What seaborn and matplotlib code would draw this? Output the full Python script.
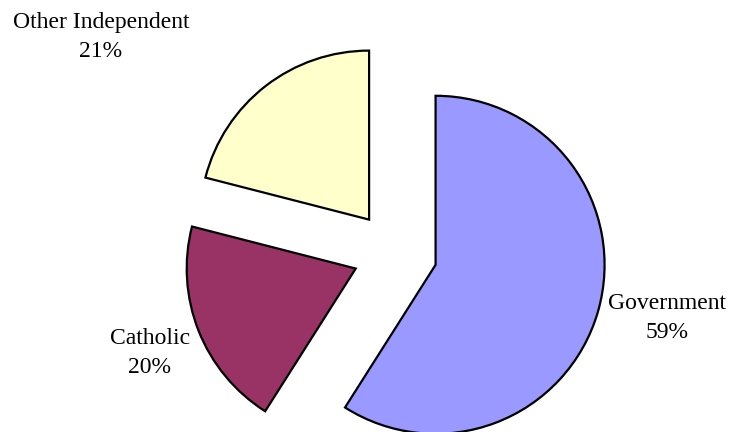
import matplotlib
matplotlib.use("Agg")
import matplotlib.pyplot as plt
import seaborn as sns

categories = ["Government", "Catholic", "Other Independent"]
shares = [59, 20, 21]
colors = ["#9999FF", "#993366", "#FFFFCC"]
label_pos = [(1.609, -0.385), (-1.45, -0.592), (-1.74, 1.278)]

sns.set_theme(style="white")
plt.rcParams["font.family"] = ["Liberation Serif", "DejaVu Serif"]

fig = plt.figure(figsize=(7.32, 4.32), dpi=100)
ax = fig.add_axes([0, 0, 1, 1])
labels = [f"{c}\n{s}%" for c, s in zip(categories, shares)]
wedges, texts = ax.pie(
    shares,
    labels=labels,
    colors=colors,
    startangle=90,
    counterclock=False,
    explode=[0.25] * len(shares),
    radius=1.0,
    wedgeprops=dict(edgecolor="black", linewidth=1.6),
    textprops=dict(fontsize=17, color="black"),
)
for t, (x, y) in zip(texts, label_pos):
    t.set_position((x, y))
    t.set_ha("center")
    t.set_va("center")
    t.set_multialignment("center")
    t.set_linespacing(1.45)

ax.set_aspect("auto")
ax.set_xlim(-395 / 169, 337 / 169)
ax.set_ylim(-(432 - 253) / 169, 253 / 169)
ax.axis("off")
fig.savefig("out.png", dpi=100, facecolor="white")
